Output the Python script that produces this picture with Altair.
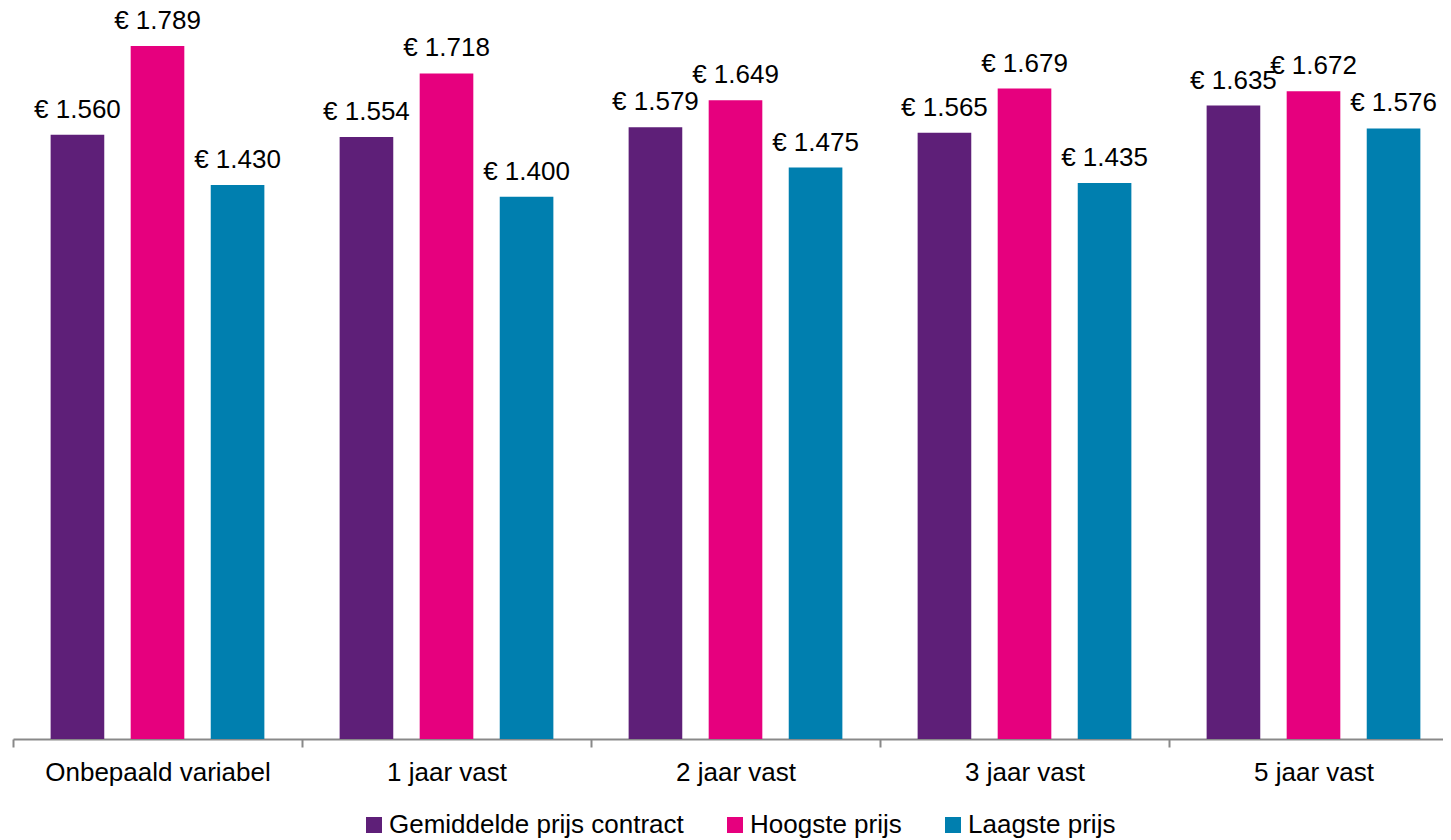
import altair as alt
import pandas as pd

categories = ["Onbepaald variabel", "1 jaar vast", "2 jaar vast", "3 jaar vast", "5 jaar vast"]
series = ["Gemiddelde prijs contract", "Hoogste prijs", "Laagste prijs"]
gemiddelde = [1560, 1554, 1579, 1565, 1635]
hoogste = [1789, 1718, 1649, 1679, 1672]
laagste = [1430, 1400, 1475, 1435, 1576]
colors = ["#5E1F78", "#E6007E", "#007FAF"]

def fmt(v):
    return "€ " + f"{v:,}".replace(",", ".")

rows = []
for i, c in enumerate(categories):
    for s, vals in zip(series, [gemiddelde, hoogste, laagste]):
        rows.append({"cat": c, "series": s, "value": vals[i], "label": fmt(vals[i])})
df = pd.DataFrame(rows)

FONT = "Liberation Sans"

base = alt.Chart(df).encode(
    x=alt.X("cat:N", sort=categories,
            scale=alt.Scale(paddingInner=0, paddingOuter=0, range=[0, 1445]),
            axis=alt.Axis(title=None, labelAngle=0, labelFontSize=26, labelFont=FONT,
                          labelColor="#000000", domainColor="#898989", domainWidth=2,
                          tickColor="#898989", tickWidth=2, tickSize=8, tickBand="extent",
                          labelPadding=12, labelLimit=500)),
    xOffset=alt.XOffset("series:N", sort=series,
                        scale=alt.Scale(paddingInner=0.33, paddingOuter=0.47)),
    y=alt.Y("value:Q", scale=alt.Scale(domain=[0, 1887], nice=False, zero=True), axis=None),
)

bars = base.mark_bar().encode(
    color=alt.Color("series:N", sort=series,
                    scale=alt.Scale(domain=series, range=colors),
                    legend=alt.Legend(title=None, orient="none", direction="horizontal",
                                      legendX=348, legendY=804,
                                      symbolType="square", symbolSize=256, symbolStrokeWidth=0,
                                      labelFontSize=26, labelFont=FONT, labelColor="#000000",
                                      columnPadding=38, labelOffset=2, labelLimit=500))
)

texts = base.mark_text(baseline="bottom", dy=-12, fontSize=26, font=FONT, color="#000000").encode(
    text="label:N"
)

chart = alt.layer(bars, texts).properties(
    width=1430, height=731,
    autosize=alt.AutoSizeParams(type="none"),
    padding={"left": 5, "top": 0, "right": 0, "bottom": 101},
).configure_view(stroke=None)

chart.save("out.html", embed_options={"renderer": "svg", "actions": False})
